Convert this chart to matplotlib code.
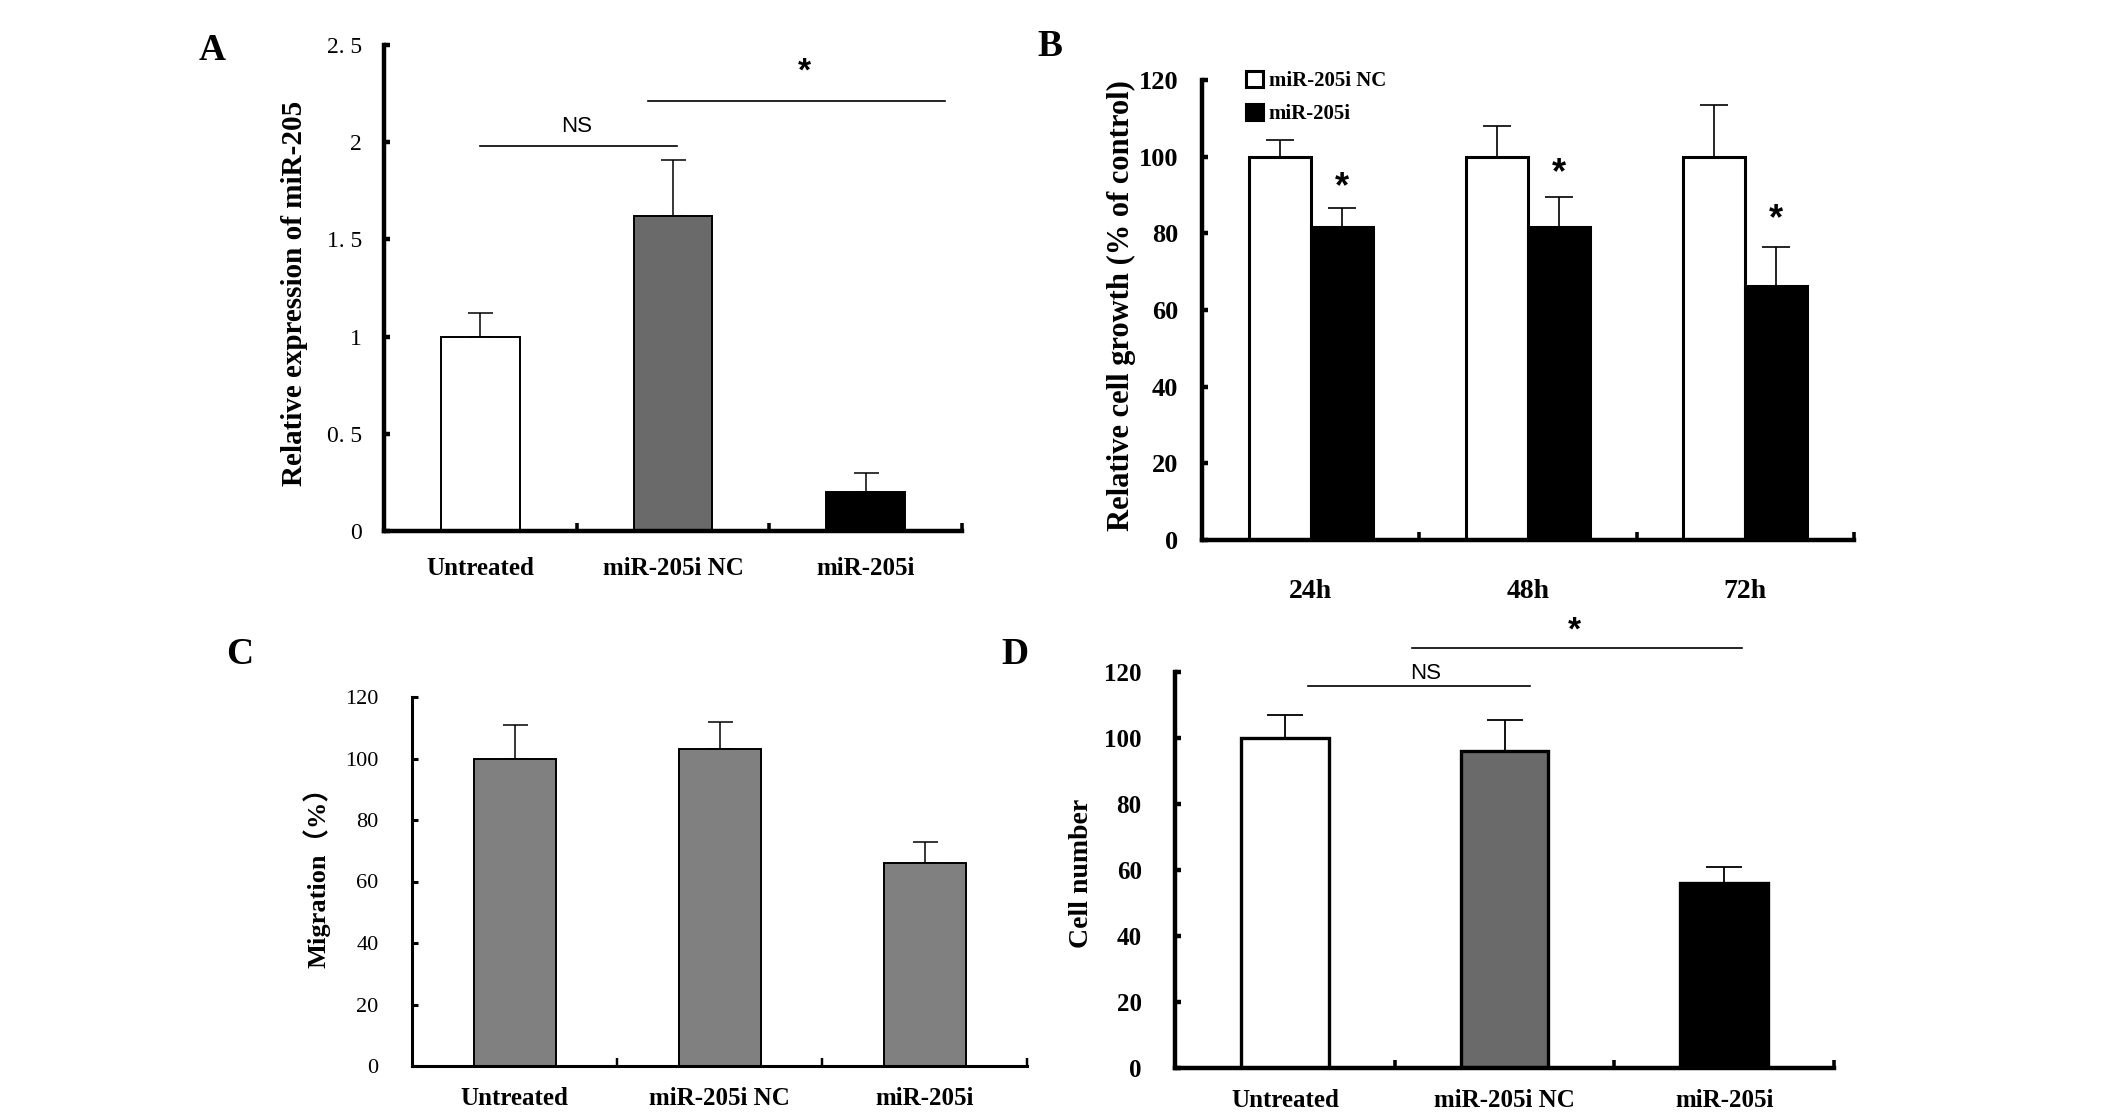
import numpy as np
import matplotlib
matplotlib.use('Agg')
import matplotlib.pyplot as plt

W, H = 2126, 1117
SERIF = 'Liberation Serif'
SANS = 'Liberation Sans'

groups = ['Untreated', 'miR-205i NC', 'miR-205i']

# A: relative expression of miR-205
exprVals = [1.0, 1.62, 0.20]
exprErr = [0.12, 0.29, 0.10]
exprTicks = [0, 0.5, 1, 1.5, 2, 2.5]
exprTickLabels = ['0', '0. 5', '1', '1. 5', '2', '2. 5']

# B: relative cell growth
times = ['24h', '48h', '72h']
growthNC = [100, 100, 100]
growthNCErr = [4.4, 8.1, 13.5]
growthI = [81.7, 81.7, 66.3]
growthIErr = [4.8, 7.8, 10.1]
growthStarY = [92.0, 95.6, 83.5]

# C: migration
migVals = [100, 103, 66]
migErr = [11, 9, 7]

# D: cell number
cellVals = [100, 96, 56]
cellErr = [7, 9.5, 5]

ticks120 = [0, 20, 40, 60, 80, 100, 120]


def addAxes(fig, left, top, right, bottom):
    # pixel box -> figure fraction
    return fig.add_axes([left / W, 1 - bottom / H, (right - left) / W, (bottom - top) / H])


def styleAxes(ax, spineW, xpad, ypad):
    ax.spines['top'].set_visible(False)
    ax.spines['right'].set_visible(False)
    for s in ('left', 'bottom'):
        ax.spines[s].set_linewidth(spineW)
    ax.set_xlim(-0.5, 2.5)
    ax.set_xticks([0, 1, 2])
    ax.set_xticks([0.5, 1.5, 2.5], minor=True)
    ax.tick_params(axis='x', which='major', length=0, pad=xpad)
    ax.tick_params(axis='x', which='minor', direction='in', length=6, width=spineW * 0.8)
    ax.tick_params(axis='y', which='major', direction='in', length=4, width=spineW, pad=ypad)


def figText(fig, x, y, s, **kw):
    fig.text(x / W, 1 - y / H, s, **kw)


def upErr(ax, x, vals, err, lw, cap):
    ax.errorbar(x, vals, yerr=[np.zeros(len(vals)), err], fmt='none', ecolor='black',
                elinewidth=lw, capsize=cap, capthick=lw, zorder=1)


fig = plt.figure(figsize=(W / 100, H / 100), dpi=100)
x = np.arange(3)

# ---------- A ----------
axA = addAxes(fig, 384, 45, 962, 531)
axA.bar(x, exprVals, 0.41, color=['white', '#6a6a6a', 'black'], edgecolor='black', linewidth=1.4, zorder=2)
upErr(axA, x, exprVals, exprErr, 1.1, 9)
axA.set_ylim(0, 2.5)
axA.set_yticks(exprTicks)
axA.set_yticklabels(exprTickLabels, family=SERIF, fontsize=17)
axA.set_xticklabels(groups, family=SERIF, fontsize=18, fontweight='bold')
styleAxes(axA, 3.2, 19, 16)
axA.plot([0.0, 1.02], [1.98, 1.98], color='black', lw=1.2, clip_on=False)
axA.text(0.5, 2.08, 'NS', family=SANS, fontsize=16, ha='center', va='center')
axA.plot([0.87, 2.41], [2.21, 2.21], color='black', lw=1.2, clip_on=False)
axA.text(1.68, 2.36, '*', family=SANS, fontsize=24, fontweight='bold', ha='center', va='center')
figText(fig, 295, 293, 'Relative expression of miR-205', rotation=90, ha='center', va='center',
        family=SERIF, fontsize=21, fontweight='bold')
figText(fig, 212, 51, 'A', ha='center', va='center', family=SERIF, fontsize=27, fontweight='bold')

# ---------- B ----------
axB = addAxes(fig, 1202, 80, 1854, 540)
bw = 0.285
axB.bar(x - bw / 2, growthNC, bw, color='white', edgecolor='black', linewidth=2.2, zorder=2,
        label='miR-205i NC')
axB.bar(x + bw / 2, growthI, bw, color='black', edgecolor='black', linewidth=2.2, zorder=2,
        label='miR-205i')
upErr(axB, x - bw / 2, growthNC, growthNCErr, 1.2, 10)
upErr(axB, x + bw / 2, growthI, growthIErr, 1.2, 10)
for xi, yi in zip(x, growthStarY):
    axB.text(xi + bw / 2, yi, '*', family=SANS, fontsize=26, fontweight='bold', ha='center', va='center')
axB.set_ylim(0, 120)
axB.set_yticks(ticks120)
axB.set_yticklabels([str(t) for t in ticks120], family=SERIF, fontsize=19, fontweight='bold')
axB.set_xticklabels(times, family=SERIF, fontsize=20, fontweight='bold')
styleAxes(axB, 3.2, 28, 17)
axB.legend(loc='upper left', bbox_to_anchor=(1246 / W, 1 - 71 / H), bbox_transform=fig.transFigure,
           frameon=False, borderpad=0, borderaxespad=0, handlelength=0.8, handleheight=0.8,
           handletextpad=0.3, labelspacing=0.6,
           prop={'family': SERIF, 'size': 15, 'weight': 'bold'})
figText(fig, 1121, 306, 'Relative cell growth (% of control)', rotation=90, ha='center', va='center',
        family=SERIF, fontsize=22, fontweight='bold')
figText(fig, 1050, 47, 'B', ha='center', va='center', family=SERIF, fontsize=27, fontweight='bold')

# ---------- C ----------
axC = addAxes(fig, 412, 697, 1027, 1066)
axC.bar(x, migVals, 0.40, color='#808080', edgecolor='black', linewidth=1.4, zorder=2)
upErr(axC, x, migVals, migErr, 1.1, 9)
axC.set_ylim(0, 120)
axC.set_yticks(ticks120)
axC.set_yticklabels([str(t) for t in ticks120], family=SERIF, fontsize=16)
axC.set_xticklabels(groups, family=SERIF, fontsize=18, fontweight='bold')
styleAxes(axC, 2.2, 15, 24)
figText(fig, 317, 871, 'Migration（%）', rotation=90, ha='center', va='center',
        family=[SERIF, 'Noto Sans CJK SC'], fontsize=19, fontweight='bold')
figText(fig, 240, 655, 'C', ha='center', va='center', family=SERIF, fontsize=27, fontweight='bold')

# ---------- D ----------
axD = addAxes(fig, 1175, 672, 1834, 1068)
axD.bar(x, cellVals, 0.40, color=['white', '#6a6a6a', 'black'], edgecolor='black', linewidth=2.4, zorder=2)
upErr(axD, x, cellVals, cellErr, 1.3, 13)
axD.set_ylim(0, 120)
axD.set_yticks(ticks120)
axD.set_yticklabels([str(t) for t in ticks120], family=SERIF, fontsize=18, fontweight='bold')
axD.set_xticklabels(groups, family=SERIF, fontsize=18, fontweight='bold')
styleAxes(axD, 3.2, 15, 24)
axD.plot([0.105, 1.115], [115.9, 115.9], color='black', lw=1.2, clip_on=False)
axD.text(0.64, 119.4, 'NS', family=SANS, fontsize=16, ha='center', va='center')
axD.plot([0.58, 2.08], [127.2, 127.2], color='black', lw=1.2, clip_on=False)
axD.text(1.32, 132.5, '*', family=SANS, fontsize=24, fontweight='bold', ha='center', va='center',
         clip_on=False)
figText(fig, 1081, 873, 'Cell number', rotation=90, ha='center', va='center',
        family=SERIF, fontsize=20, fontweight='bold')
figText(fig, 1015, 655, 'D', ha='center', va='center', family=SERIF, fontsize=27, fontweight='bold')

fig.savefig('out.png', dpi=100)
